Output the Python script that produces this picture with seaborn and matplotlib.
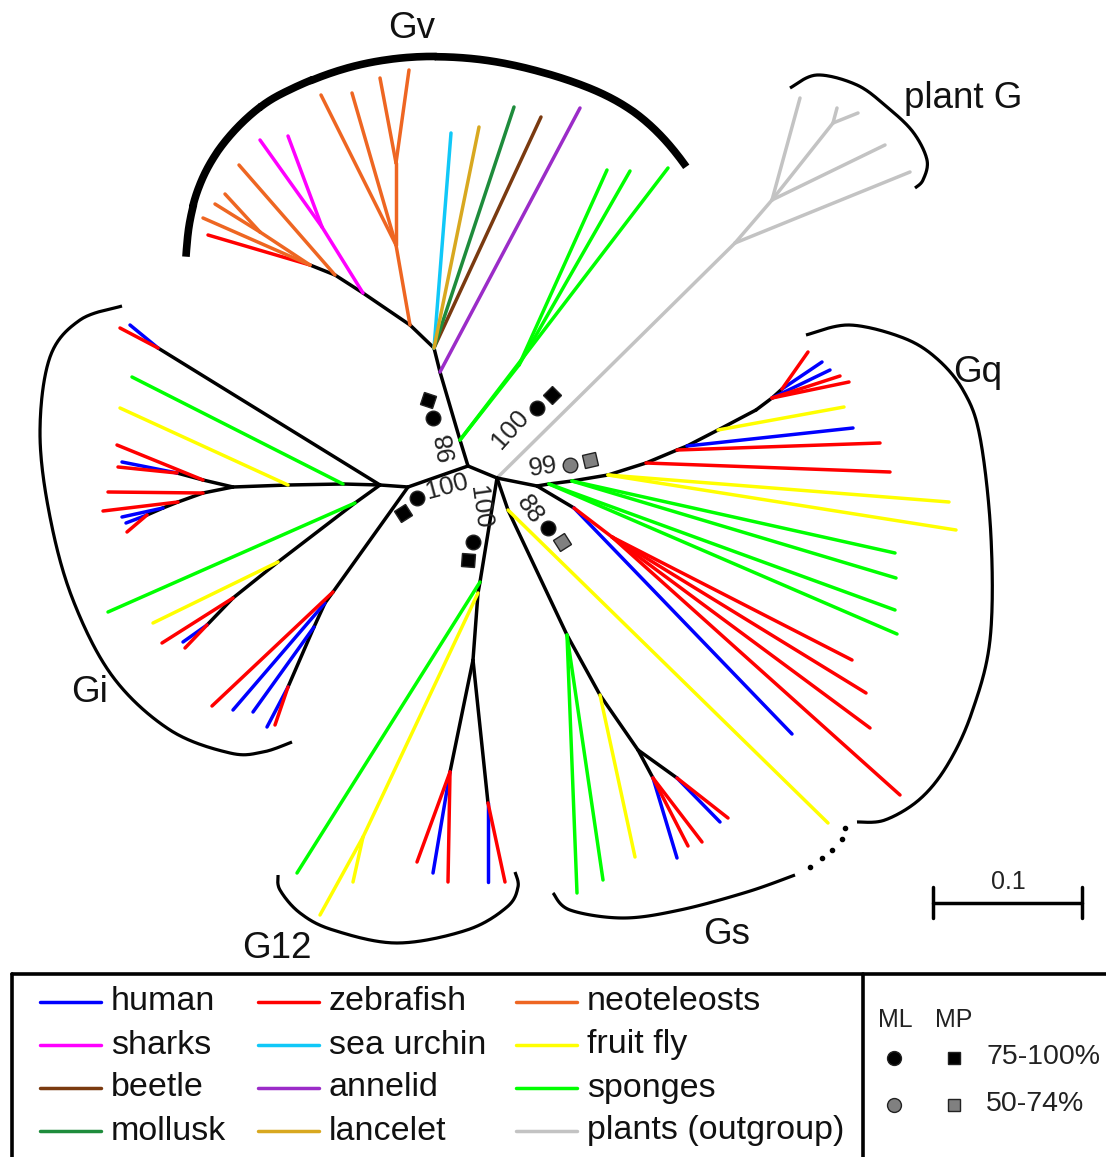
import numpy as np
import pandas as pd
import matplotlib
matplotlib.use('Agg')
import matplotlib.pyplot as plt
from matplotlib.markers import MarkerStyle
from matplotlib.transforms import Affine2D
import seaborn as sns

sns.set_style('white')
plt.rcParams['font.family'] = ['Liberation Sans', 'DejaVu Sans']

# species (legend order: column by column) and their colours
species = ['human', 'sharks', 'beetle', 'mollusk',
           'zebrafish', 'sea urchin', 'annelid', 'lancelet',
           'neoteleosts', 'fruit fly', 'sponges', 'plants']
species_labels = ['human', 'sharks', 'beetle', 'mollusk',
                  'zebrafish', 'sea urchin', 'annelid', 'lancelet',
                  'neoteleosts', 'fruit fly', 'sponges', 'plants (outgroup)']
species_colors = ['#0000ff', '#ff00ff', '#7a3a10', '#1e8c3c',
                  '#ff0000', '#10c8f8', '#9b2cc8', '#d8a820',
                  '#ee6622', '#ffff00', '#00ff00', '#c3c3c3']

# tree layout: (node, parent, x, y, branch kind), 1 unit = 1/1500 substitutions
core_nodes = [
    ('R', None, 497, 478, None),
    ('A', 'R', 468, 466, 'internal'),
    ('A1', 'A', 460, 440, 'internal'),
    ('N1', 'A', 408, 487, 'internal'),
    ('Q0', 'R', 537, 486, 'internal'),
    ('T0', 'R', 480, 582, 'internal'),
    ('U0', 'R', 508, 510, 'internal'),
]

plant_nodes = [
    ('P0', 'R', 735, 243, 'plants'),
    ('p1', 'P0', 910, 172, 'plants'),
    ('P1', 'P0', 772, 200, 'plants'),
    ('p2', 'P1', 885, 145, 'plants'),
    ('p3', 'P1', 800, 98, 'plants'),
    ('P2', 'P1', 833, 123, 'plants'),
    ('p4', 'P2', 837, 108, 'plants'),
    ('p5', 'P2', 858, 113, 'plants'),
]

gv_nodes = [
    ('V0', 'A1', 440, 372, 'internal'),
    ('v1', 'V0', 580, 108, 'annelid'),
    ('V1', 'V0', 434, 348, 'internal'),
    ('v2', 'V1', 451, 133, 'sea urchin'),
    ('v3', 'V1', 479, 127, 'lancelet'),
    ('v4', 'V1', 514, 107, 'mollusk'),
    ('v5', 'V1', 541, 117, 'beetle'),
    ('V2', 'V1', 410, 325, 'internal'),
    ('V2a', 'V2', 396, 245, 'neoteleosts'),
    ('v6', 'V2a', 321, 95, 'neoteleosts'),
    ('v7', 'V2a', 352, 93, 'neoteleosts'),
    ('V2b', 'V2a', 396, 163, 'neoteleosts'),
    ('v8', 'V2b', 380, 78, 'neoteleosts'),
    ('v9', 'V2b', 409, 70, 'neoteleosts'),
    ('V3', 'V2', 363, 293, 'internal'),
    ('V3a', 'V3', 322, 227, 'sharks'),
    ('v10', 'V3a', 260, 140, 'sharks'),
    ('v11', 'V3a', 288, 136, 'sharks'),
    ('V4', 'V3', 335, 275, 'internal'),
    ('v12', 'V4', 239, 165, 'neoteleosts'),
    ('V5', 'V4', 310, 265, 'internal'),
    ('v13', 'V5', 208, 235, 'zebrafish'),
    ('v14', 'V5', 203, 218, 'neoteleosts'),
    ('V5a', 'V5', 260, 232, 'neoteleosts'),
    ('v15', 'V5a', 215, 204, 'neoteleosts'),
    ('v16', 'V5a', 225, 194, 'neoteleosts'),
    ('S1', 'A1', 519, 365, 'sponges'),
    ('s1', 'A1', 668, 168, 'sponges'),
    ('s2', 'S1', 607, 170, 'sponges'),
    ('s3', 'S1', 630, 171, 'sponges'),
]

gi_nodes = [
    ('I0', 'N1', 380, 485, 'internal'),
    ('I1', 'I0', 158, 348, 'internal'),
    ('i1', 'I1', 130, 325, 'human'),
    ('i2', 'I1', 120, 328, 'zebrafish'),
    ('Ih1', 'I0', 343, 484, 'internal'),
    ('i3', 'Ih1', 132, 377, 'sponges'),
    ('Ih2', 'Ih1', 288, 485, 'internal'),
    ('i4', 'Ih2', 120, 408, 'fruit fly'),
    ('I2', 'Ih2', 233, 487, 'internal'),
    ('I3', 'I2', 203, 480, 'internal'),
    ('i5', 'I3', 117, 445, 'zebrafish'),
    ('I4', 'I3', 177, 473, 'internal'),
    ('i6', 'I4', 122, 462, 'human'),
    ('i7', 'I4', 118, 467, 'zebrafish'),
    ('I5', 'I2', 203, 493, 'internal'),
    ('i8', 'I5', 108, 492, 'zebrafish'),
    ('I6', 'I5', 178, 502, 'internal'),
    ('i9', 'I6', 103, 511, 'zebrafish'),
    ('I7', 'I6', 163, 508, 'internal'),
    ('i10', 'I7', 122, 517, 'human'),
    ('I8', 'I7', 147, 515, 'internal'),
    ('i11', 'I8', 126, 523, 'human'),
    ('i12', 'I8', 127, 532, 'zebrafish'),
    ('J1', 'I0', 355, 503, 'internal'),
    ('j1', 'J1', 108, 612, 'sponges'),
    ('J2', 'J1', 278, 562, 'internal'),
    ('j2', 'J2', 153, 623, 'fruit fly'),
    ('J3', 'J2', 233, 598, 'internal'),
    ('j3', 'J3', 162, 643, 'zebrafish'),
    ('J4', 'J3', 207, 625, 'internal'),
    ('j4', 'J4', 183, 642, 'human'),
    ('j5', 'J4', 185, 648, 'zebrafish'),
    ('K0', 'N1', 333, 592, 'internal'),
    ('k1', 'K0', 212, 706, 'zebrafish'),
    ('K1', 'K0', 325, 603, 'internal'),
    ('k2', 'K1', 233, 710, 'human'),
    ('K2', 'K1', 314, 627, 'internal'),
    ('k3', 'K2', 253, 712, 'human'),
    ('K3', 'K2', 288, 687, 'internal'),
    ('k4', 'K3', 267, 727, 'human'),
    ('k5', 'K3', 275, 725, 'zebrafish'),
]

g12_nodes = [
    ('t1', 'T0', 297, 873, 'sponges'),
    ('T1', 'T0', 478, 593, 'internal'),
    ('T1y', 'T1', 363, 837, 'fruit fly'),
    ('t2', 'T1y', 320, 915, 'fruit fly'),
    ('t3', 'T1y', 353, 882, 'fruit fly'),
    ('T2', 'T1', 473, 660, 'internal'),
    ('T3', 'T2', 450, 772, 'internal'),
    ('t4', 'T3', 417, 862, 'zebrafish'),
    ('t5', 'T3', 433, 873, 'human'),
    ('t6', 'T3', 448, 882, 'zebrafish'),
    ('T4', 'T2', 488, 803, 'internal'),
    ('t7', 'T4', 488, 882, 'human'),
    ('t8', 'T4', 505, 882, 'zebrafish'),
]

gs_nodes = [
    ('u1', 'U0', 828, 823, 'fruit fly'),
    ('U1', 'U0', 567, 635, 'internal'),
    ('u2', 'U1', 577, 893, 'sponges'),
    ('u3', 'U1', 603, 880, 'sponges'),
    ('U2', 'U1', 600, 695, 'internal'),
    ('u4', 'U2', 635, 857, 'fruit fly'),
    ('U3', 'U2', 638, 750, 'internal'),
    ('U4', 'U3', 653, 778, 'internal'),
    ('u5', 'U4', 677, 858, 'human'),
    ('u6', 'U4', 688, 846, 'zebrafish'),
    ('u7', 'U4', 702, 842, 'zebrafish'),
    ('U5', 'U3', 677, 778, 'internal'),
    ('u8', 'U5', 720, 822, 'human'),
    ('u9', 'U5', 728, 818, 'zebrafish'),
]

gq_nodes = [
    ('Q8', 'Q0', 574, 508, 'internal'),
    ('q1', 'Q8', 792, 734, 'human'),
    ('Q8r', 'Q8', 612, 537, 'zebrafish'),
    ('q2', 'Q8r', 852, 660, 'zebrafish'),
    ('q3', 'Q8r', 866, 693, 'zebrafish'),
    ('q4', 'Q8r', 870, 728, 'zebrafish'),
    ('q5', 'Q8r', 900, 795, 'zebrafish'),
    ('Qa', 'Q0', 549, 484, 'internal'),
    ('q6', 'Qa', 895, 610, 'sponges'),
    ('q7', 'Qa', 897, 634, 'sponges'),
    ('Qb', 'Qa', 572, 481, 'internal'),
    ('q8', 'Qb', 895, 553, 'sponges'),
    ('q9', 'Qb', 896, 578, 'sponges'),
    ('Qc', 'Qb', 608, 475, 'internal'),
    ('q10', 'Qc', 949, 502, 'fruit fly'),
    ('q11', 'Qc', 956, 530, 'fruit fly'),
    ('Qd', 'Qc', 646, 463, 'internal'),
    ('q12', 'Qd', 890, 472, 'zebrafish'),
    ('Qe', 'Qd', 677, 450, 'internal'),
    ('q13', 'Qe', 880, 443, 'zebrafish'),
    ('Qf', 'Qe', 687, 446, 'internal'),
    ('q14', 'Qf', 853, 428, 'human'),
    ('Qg', 'Qf', 718, 430, 'internal'),
    ('q15', 'Qg', 844, 407, 'fruit fly'),
    ('Qh', 'Qg', 756, 410, 'internal'),
    ('Qi', 'Qh', 772, 398, 'internal'),
    ('Qj', 'Qi', 782, 389, 'internal'),
    ('q16', 'Qj', 808, 352, 'zebrafish'),
    ('q17', 'Qj', 822, 362, 'human'),
    ('q18', 'Qi', 830, 370, 'human'),
    ('q19', 'Qi', 840, 376, 'zebrafish'),
    ('q20', 'Qi', 849, 382, 'zebrafish'),
]

# bootstrap support labels
boot_text = ['98', '100', '99', '100', '100', '88']
boot_x = [446, 510, 543, 447, 480, 530]
boot_y = [446, 429, 467, 487, 507, 510]
boot_rot = [100, 48, 8, 15, -82, -55]
# ML circles and MP squares: x, y, support class, square rotation
ml_x = [433, 537, 570, 417, 473, 548]
ml_y = [418, 408, 465, 498, 542, 528]
ml_class = ['high', 'high', 'mid', 'high', 'high', 'high']
mp_x = [428, 552, 590, 403, 468, 562]
mp_y = [400, 395, 460, 513, 560, 542]
mp_class = ['high', 'high', 'mid', 'high', 'high', 'mid']
mp_angle = [-20, 45, 10, 30, -8, 35]
support_fill = {'high': 'black', 'mid': '#808080'}

# clade names
clade_names = ['Gv', 'plant G', 'Gq', 'Gi', 'G12', 'Gs']
clade_x = [412, 963, 978, 90, 277, 727]
clade_y = [28, 98, 372, 692, 948, 935]

# clade brackets (guide points)
bracket_gv = [(187, 257), (193, 205), (215, 155), (260, 107), (311, 80), (436, 57),
              (543, 73), (632, 110), (686, 167)]
bracket_gv_centre = (460, 342)
bracket_plant = [(790, 88), (817, 75), (857, 85), (887, 107), (913, 132), (927, 160),
                 (923, 180), (915, 188)]
bracket_gq = [(806, 335), (849, 325), (901, 337), (935, 357), (963, 390), (980, 437),
              (991, 537), (990, 640), (972, 712), (948, 764), (920, 799), (885, 820),
              (857, 822)]
bracket_gi = [(122, 306), (80, 320), (50, 357), (40, 433), (50, 517), (73, 600),
              (113, 677), (170, 730), (230, 753), (263, 752), (292, 742)]
bracket_g12 = [(278, 875), (280, 890), (300, 913), (333, 930), (397, 943), (467, 930),
               (507, 907), (518, 887), (515, 872)]
bracket_gs = [(553, 893), (570, 910), (623, 918), (680, 910), (747, 892), (795, 875)]
gap_dots_x = [810, 822, 832, 842, 845]
gap_dots_y = [867, 858, 850, 839, 828]


def smooth(pts, n=25):
    p = np.asarray(pts, float)
    p = np.vstack([p[0], p, p[-1]])
    out = []
    t = np.linspace(0, 1, n)[:, None]
    for i in range(1, len(p) - 2):
        p0, p1, p2, p3 = p[i - 1], p[i], p[i + 1], p[i + 2]
        out.append(0.5 * (2 * p1 + (-p0 + p2) * t + (2 * p0 - 5 * p1 + 4 * p2 - p3) * t ** 2
                          + (-p0 + 3 * p1 - 3 * p2 + p3) * t ** 3))
    return np.vstack(out)


def smooth_polar(pts, centre, n=40):
    # smooth in (angle, radius) around a centre so the arc stays round
    p = np.asarray(pts, float)
    cx, cy = centre
    ang = np.arctan2(cy - p[:, 1], p[:, 0] - cx)
    rad = np.hypot(p[:, 0] - cx, p[:, 1] - cy)
    ar = smooth(np.column_stack([ang, rad]), n)
    # light extra smoothing on radius
    r = np.convolve(np.pad(ar[:, 1], 15, mode='edge'), np.ones(31) / 31, mode='valid')
    return np.column_stack([cx + r * np.cos(ar[:, 0]), cy - r * np.sin(ar[:, 0])])


# build edge table
all_nodes = core_nodes + plant_nodes + gv_nodes + gi_nodes + g12_nodes + gs_nodes + gq_nodes
pos = {n[0]: (n[2], n[3]) for n in all_nodes}
rows = []
for k, (name, parent, x, y, kind) in enumerate(all_nodes):
    if parent is None:
        continue
    px, py = pos[parent]
    rows.append({'edge': k, 'x': px, 'y': py, 'kind': kind})
    rows.append({'edge': k, 'x': x, 'y': y, 'kind': kind})
edges = pd.DataFrame(rows)

palette = dict(zip(species, species_colors))
palette['internal'] = 'black'
hue_order = ['plants', 'internal'] + [s for s in species if s != 'plants']

fig = plt.figure(figsize=(11.06, 11.57), dpi=100)
ax = fig.add_axes([0, 0, 1, 1])

sns.lineplot(data=edges, x='x', y='y', hue='kind', units='edge', estimator=None,
             sort=False, palette=palette, hue_order=hue_order, linewidth=2.5,
             solid_capstyle='round', legend=False, ax=ax)

# brackets
gv_curve = smooth_polar(bracket_gv, bracket_gv_centre)
ax.plot(gv_curve[:, 0], gv_curve[:, 1], color='black', lw=5.5, solid_capstyle='butt')
for pts in [bracket_plant, bracket_gq, bracket_gi, bracket_g12, bracket_gs]:
    c = smooth(pts)
    ax.plot(c[:, 0], c[:, 1], color='black', lw=2.3, solid_capstyle='butt')
ax.plot(gap_dots_x, gap_dots_y, 'o', color='black', ms=3)

for name, x, y in zip(clade_names, clade_x, clade_y):
    ax.text(x, y, name, fontsize=26.5, ha='center', va='center', color='#111111')

# bootstrap support
for t, x, y, r in zip(boot_text, boot_x, boot_y, boot_rot):
    ax.text(x, y, t, fontsize=18.5, ha='center', va='center', rotation=r,
            rotation_mode='anchor', color='#222222')
for x, y, c in zip(ml_x, ml_y, ml_class):
    ax.plot(x, y, 'o', ms=10.5, mfc=support_fill[c], mec='#222222', mew=1)
for x, y, c, a in zip(mp_x, mp_y, mp_class, mp_angle):
    m = MarkerStyle('s', transform=Affine2D().rotate_deg(a))
    ax.plot(x, y, marker=m, ms=9.5, mfc=support_fill[c], mec='#222222', mew=1, ls='none')

# scale bar
ax.plot([933, 1082], [903, 903], color='black', lw=2.5)
ax.plot([933, 933], [887, 918], color='black', lw=2.5)
ax.plot([1082, 1082], [887, 918], color='black', lw=2.5)
ax.text(1008, 882, '0.1', fontsize=18, ha='center', va='center', color='#222222')

# legend box
ax.plot([12, 1106], [974, 974], color='black', lw=2.6)
ax.plot([12, 12], [974, 1157], color='black', lw=2.6)
ax.plot([863, 863], [974, 1157], color='black', lw=2.6)
col_x = [40, 258, 516]
row_y = [1001, 1044, 1087, 1130]
for i, (lab, col) in enumerate(zip(species_labels, species_colors)):
    cx = col_x[i // 4]
    ry = row_y[i % 4]
    ax.plot([cx, cx + 61], [ry + 1, ry + 1], color=col, lw=2.5)
    ax.text(cx + 71, ry + 1, lab, fontsize=24.5, ha='left', va='center', color='#111111')

ax.text(895, 1020, 'ML', fontsize=18, ha='center', va='center', color='#222222')
ax.text(954, 1020, 'MP', fontsize=18, ha='center', va='center', color='#222222')
ax.plot(894, 1058, 'o', ms=10, mfc='black', mec='#222222')
ax.plot(954, 1058, 's', ms=8.5, mfc='black', mec='#222222')
ax.text(986, 1057, '75-100%', fontsize=20.5, ha='left', va='center', color='#222222')
ax.plot(894, 1105, 'o', ms=10, mfc='#808080', mec='#222222')
ax.plot(954, 1105, 's', ms=8.5, mfc='#808080', mec='#222222')
ax.text(986, 1104, '50-74%', fontsize=20.5, ha='left', va='center', color='#222222')

ax.set_xlim(0, 1106)
ax.set_ylim(1157, 0)
ax.axis('off')

fig.savefig('out.png', dpi=100)
